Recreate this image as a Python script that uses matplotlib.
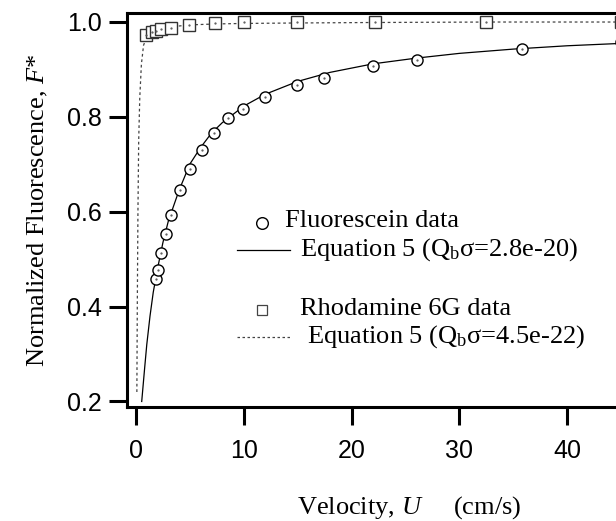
import matplotlib
matplotlib.use("Agg")
import matplotlib.pyplot as plt
from matplotlib.lines import Line2D

# ---- data ----
fluor_u = [1.83, 2.01, 2.32, 2.76, 3.22, 4.08, 5.01, 6.09, 7.2, 8.56, 9.95,
           12.0, 14.9, 17.4, 22.0, 26.1, 35.8, 45.0]
fluor_f = [0.458, 0.477, 0.513, 0.552, 0.593, 0.645, 0.690, 0.730, 0.766, 0.796,
           0.815, 0.841, 0.866, 0.881, 0.906, 0.919, 0.943, 0.957]

rhod_u = [0.97, 1.44, 1.86, 2.32, 3.25, 4.92, 7.33, 10.0, 14.9, 22.2, 32.5, 45.0]
rhod_f = [0.972, 0.977, 0.981, 0.985, 0.987, 0.993, 0.996, 0.998, 0.999, 0.999,
          0.999, 0.999]

fit1_u = [0.53, 0.8, 1.0, 1.3, 1.6, 2.0, 2.5, 3.0, 4.0, 5.0, 6.0, 7.0, 8.0, 10,
          12, 15, 18, 22, 26, 30, 35, 40, 45, 48]
fit1_f = [0.20, 0.27, 0.32, 0.38, 0.43, 0.48, 0.535, 0.58, 0.645, 0.70, 0.735,
          0.765, 0.787, 0.822, 0.847, 0.874, 0.893, 0.911, 0.923, 0.933, 0.942,
          0.949, 0.954, 0.957]

fit2_u = [0.08, 0.12, 0.18, 0.25, 0.35, 0.5, 0.7, 1.0, 1.5, 2.3, 3.3, 5, 7.5,
          10, 15, 22, 33, 48]
fit2_f = [0.22, 0.40, 0.60, 0.75, 0.84, 0.91, 0.95, 0.968, 0.977, 0.985, 0.989,
          0.993, 0.995, 0.996, 0.997, 0.998, 0.999, 0.999]

xticks = [0, 10, 20, 30, 40]
yticks = [0.2, 0.4, 0.6, 0.8, 1.0]

legend_labels = ["Fluorescein data", r"Equation 5 (Q$_\mathrm{b}$σ=2.8e-20)",
                 "Rhodamine 6G data", r"Equation 5 (Q$_\mathrm{b}$σ=4.5e-22)"]

plt.rcParams['mathtext.fontset'] = 'custom'
plt.rcParams['mathtext.rm'] = 'Liberation Serif'
plt.rcParams['mathtext.it'] = 'Liberation Serif:italic'

W, H = 616, 521
fig = plt.figure(figsize=(W / 100, H / 100), dpi=100)
left_px, right_px, top_px, bot_px = 127, 650, 13, 407
ax = fig.add_axes([left_px / W, 1 - bot_px / H, (right_px - left_px) / W,
                   (bot_px - top_px) / H])

ax.plot(fit1_u, fit1_f, color='black', lw=0.9, zorder=2)
ax.plot(fit2_u, fit2_f, color='#444444', lw=0.9, ls=(0, (2.2, 2.2)), zorder=2)
ax.plot(fluor_u, fluor_f, ls='none', marker='o', ms=8.0, mfc='white',
        mec='black', mew=1.0, zorder=3)
ax.plot(fluor_u, fluor_f, ls='none', marker='.', ms=1.2, color='#555555', zorder=4)
ax.plot(rhod_u, rhod_f, ls='none', marker='s', ms=8.0, mfc='white',
        mec='#333333', mew=1.0, zorder=3)
ax.plot(rhod_u, rhod_f, ls='none', marker='.', ms=1.2, color='#555555', zorder=4)

ax.set_xlim(-0.835, 47.68)
ax.set_ylim(0.1884, 1.018)
ax.set_xticks(xticks)
ax.set_yticks(yticks)
ax.set_xticklabels([str(t) for t in xticks])
ax.set_yticklabels([f"{t:.1f}" for t in yticks])

for s in ['left', 'bottom', 'top']:
    ax.spines[s].set_linewidth(2.2)
ax.spines['right'].set_visible(False)
ax.tick_params(axis='both', direction='out', length=13, width=2.2,
               labelsize=18, colors='black')
ax.tick_params(axis='x', pad=10)
ax.tick_params(axis='y', pad=5)
for lab in ax.get_xticklabels() + ax.get_yticklabels():
    lab.set_fontfamily('Liberation Sans')

ax.set_xlabel(r"Velocity, $\mathit{U}$     (cm/s)", family='Liberation Serif',
              fontsize=19)
ax.xaxis.set_label_coords((409 - left_px) / (right_px - left_px), -0.222)
ax.set_ylabel(r"Normalized Fluorescence, $\mathit{F}$*", family='Liberation Serif',
              fontsize=19)
ax.yaxis.set_label_coords(-0.147, 0.50)

# legend drawn manually
def ax_xy(px, py):
    return ((px - left_px) / (right_px - left_px), (bot_px - py) / (bot_px - top_px))

tf = ax.transAxes
x0, y0 = ax_xy(262, 223)
ax.add_line(Line2D([x0], [y0], transform=tf, marker='o', ms=8.4, mfc='white',
                   mec='black', mew=1.0, ls='none'))
xa, yl = ax_xy(237, 250)
xb, _ = ax_xy(290, 250)
ax.add_line(Line2D([xa, xb], [yl, yl], transform=tf, color='black', lw=0.9))
x0, y0 = ax_xy(262, 310)
ax.add_line(Line2D([x0], [y0], transform=tf, marker='s', ms=7.0, mfc='white',
                   mec='#444444', mew=0.9, ls='none'))
xa, yl = ax_xy(237, 337)
xb, _ = ax_xy(290, 337)
ax.add_line(Line2D([xa, xb], [yl, yl], transform=tf, color='#444444', lw=0.9,
                   ls=(0, (2.0, 2.0))))

text_pos = [(285, 221), (300, 250), (300, 309), (307, 337)]
for (px, py), lab in zip(text_pos, legend_labels):
    tx, ty = ax_xy(px, py)
    ax.text(tx, ty, lab, transform=tf, family='Liberation Serif', fontsize=19,
            ha='left', va='center')

fig.savefig("out.png", dpi=100)
